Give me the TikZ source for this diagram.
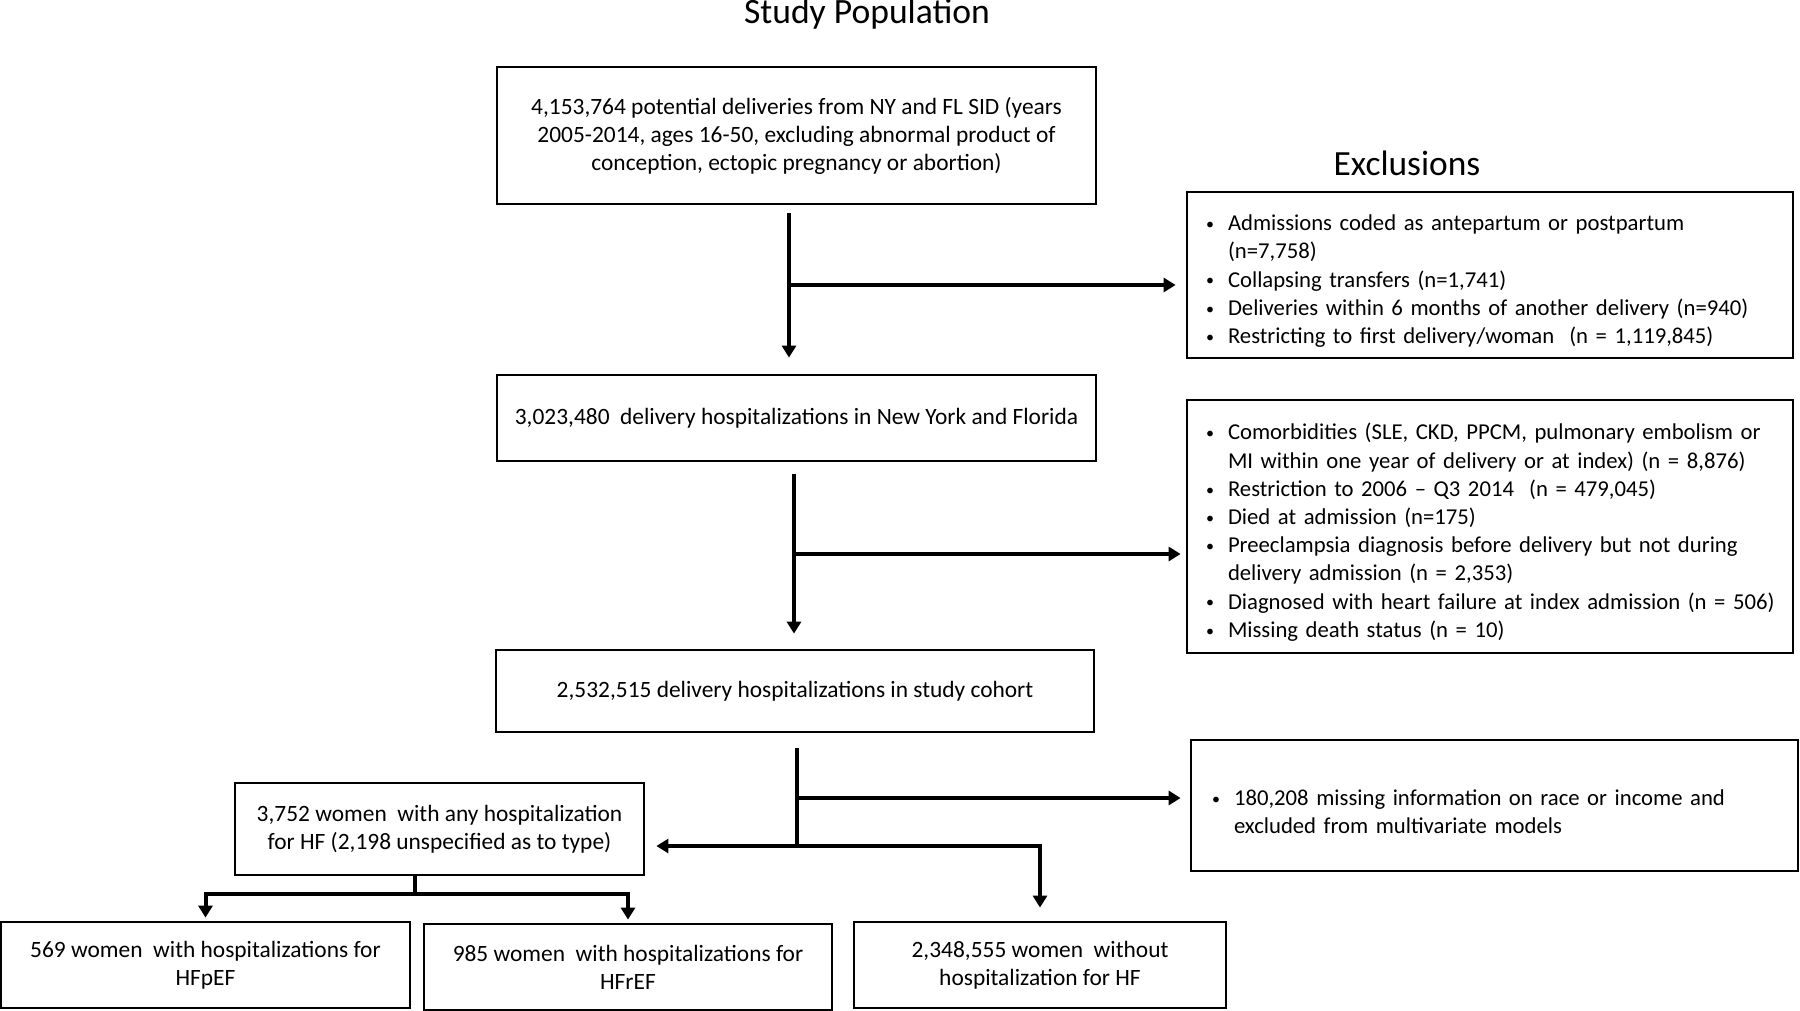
\documentclass[tikz,border=0pt]{standalone}
\usepackage{fontspec}
\setmainfont{Carlito}
\usetikzlibrary{arrows.meta}

% one bullet line of an exclusion list
\newcommand{\exitem}[1]{\par\hangindent=11.5pt\hangafter=1\noindent\makebox[11.5pt][l]{\hspace{0.5pt}\raisebox{0.6pt}{\footnotesize\textbullet}}#1\par}

\begin{document}
\begin{tikzpicture}[x=1pt, y=-1pt, font=\fontsize{11.7}{14}\selectfont]
    % Define styles
    \tikzstyle{box} = [draw, line width=1.4pt, align=center, inner sep=4pt]
    \tikzstyle{excl} = [draw, line width=1.4pt, align=left, inner xsep=9pt, text width=285pt, font=\fontsize{11.35}{14.1}\selectfont]
    \tikzstyle{flow} = [line width=2pt, -{Triangle[length=6pt, width=7pt]}]
    \tikzstyle{link} = [line width=2pt]

    \useasboundingbox (0,0) rectangle (900,505.5);

    % Titles
    \node[font=\fontsize{17.8}{21}\selectfont, anchor=base] (title) at (433.5,12) {Study Population};
    \node[font=\fontsize{17.7}{21}\selectfont, anchor=base] (excltitle) at (703.5,88) {Exclusions};

    % Main column
    \node[box, minimum width=299.5pt, minimum height=68.5pt] (deliveries) at (398.25,67.75) {4,153,764 potential deliveries from NY and FL SID (years\\2005-2014, ages 16-50, excluding abnormal product of\\conception, ectopic pregnancy or abortion)};
    \node[box, minimum width=299.5pt, minimum height=43pt] (hospitalizations) at (398.25,209) {3,023,480\ \ delivery hospitalizations in New York and Florida};
    \node[box, minimum width=299pt, minimum height=41pt] (cohort) at (397.5,345.5) {2,532,515 delivery hospitalizations in study cohort};

    % Exclusions column
    \node[excl, minimum height=83pt] (exclA) at (745,137.5) {%
        \exitem{Admissions coded as antepartum or postpartum\newline(n=7,758)}
        \exitem{Collapsing transfers (n=1,741)}
        \exitem{Deliveries within 6 months of another delivery (n=940)}
        \exitem{Restricting to first delivery/woman\ \ (n = 1,119,845)}
        \vspace{3pt}};
    \node[excl, minimum height=126.5pt] (exclB) at (745,263.25) {%
        \exitem{Comorbidities (SLE, CKD, PPCM, pulmonary embolism or\newline MI within one year of delivery or at index) (n = 8,876)}
        \exitem{Restriction to 2006 -- Q3 2014\ \ (n = 479,045)}
        \exitem{Died at admission (n=175)}
        \exitem{Preeclampsia diagnosis before delivery but not during\newline delivery admission (n = 2,353)}
        \exitem{Diagnosed with heart failure at index admission (n = 506)}
        \exitem{Missing death status (n = 10)}
        \vspace{2pt}};
    \node[excl, inner xsep=10pt, text width=283.5pt, minimum height=65.5pt] (exclC) at (747.25,402.75) {%
        \exitem{180,208 missing information on race or income and\newline excluded from multivariate models}
        \vspace{3pt}};

    % Outcome boxes
    \node[box, minimum width=204.5pt, minimum height=46pt] (anyhf) at (219.75,414.5) {3,752 women\ \ with any hospitalization\\for HF (2,198 unspecified as to type)};
    \node[box, minimum width=204.5pt, minimum height=43pt] (hfpef) at (102.75,482.5) {569 women\ \ with hospitalizations for\\HFpEF};
    \node[box, minimum width=204pt, minimum height=43pt] (hfref) at (314,483.5) {985 women\ \ with hospitalizations for\\HFrEF};
    \node[box, minimum width=186pt, minimum height=43pt] (nohf) at (520,482.5) {2,348,555 women\ \ without\\hospitalization for HF};

    % Branch points
    \coordinate (split1) at (394.5,142.5);
    \coordinate (split2) at (397,277);
    \coordinate (split3) at (398.5,399);
    \coordinate (fork) at (398.5,423);
    \coordinate (hfsplit) at (207.5,447);

    % Arrows
    \draw[flow, shorten <=4pt, shorten >=8pt] (deliveries.south -| split1) -- (hospitalizations.north -| split1);
    \draw[flow, shorten >=5pt] (split1) -- (exclA.west |- split1);
    \draw[flow, shorten <=6pt, shorten >=7.5pt] (hospitalizations.south -| split2) -- (cohort.north -| split2);
    \draw[flow, shorten >=2.5pt] (split2) -- (exclB.west |- split2);
    \draw[link, shorten <=7.5pt] (cohort.south -| fork) -- (fork);
    \draw[flow, shorten >=4.5pt] (split3) -- (exclC.west |- split3);
    \draw[flow, shorten >=5.5pt] (fork) -- (anyhf.east |- fork);
    \draw[flow, shorten >=6.5pt] (fork) -| (nohf.north);
    \draw[link] (anyhf.south -| hfsplit) -- (hfsplit);
    \draw[flow, shorten >=1.5pt] (hfsplit) -| (hfpef.north);
    \draw[flow, shorten >=1.5pt] (hfsplit) -| (hfref.north);
\end{tikzpicture}
\end{document}
